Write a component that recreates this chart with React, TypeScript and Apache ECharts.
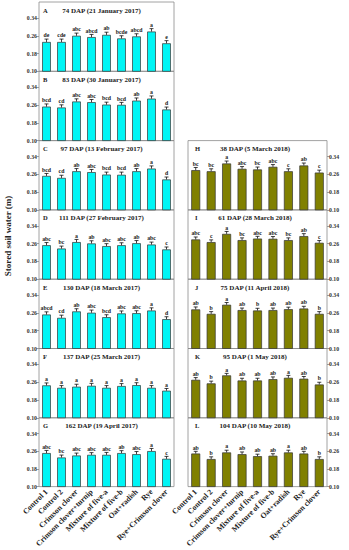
import React, { useEffect, useRef } from "react";
import * as echarts from "echarts";

const categories = [
  "Control 1",
  "Control 2",
  "Crimson clover",
  "Crimson clover+turnip",
  "Mixture of five-a",
  "Mixture of five-b",
  "Oat+radish",
  "Rye",
  "Rye+Crimson clover",
];

const yTicks = [0.1, 0.18, 0.26, 0.34];

const panelLetters = ["A", "B", "C", "D", "E", "F", "G", "H", "I", "J", "K", "L"];
const panelTitles = [
  "74 DAP (21 January 2017)",
  "83 DAP (30 January 2017)",
  "97 DAP (13 February 2017)",
  "111 DAP (27 February 2017)",
  "130 DAP (18 March 2017)",
  "137 DAP (25 March 2017)",
  "162 DAP (19 April 2017)",
  "38 DAP (5 March 2018)",
  "61 DAP (28 March 2018)",
  "75 DAP (11 April 2018)",
  "95 DAP (1 May 2018)",
  "104 DAP (10 May 2018)",
];

const meanA = [0.232, 0.232, 0.26, 0.254, 0.264, 0.248, 0.257, 0.279, 0.226];
const meanB = [0.253, 0.249, 0.276, 0.273, 0.262, 0.261, 0.28, 0.289, 0.24];
const meanC = [0.253, 0.244, 0.274, 0.27, 0.259, 0.258, 0.274, 0.286, 0.237];
const meanD = [0.253, 0.238, 0.267, 0.261, 0.249, 0.253, 0.262, 0.256, 0.234];
const meanE = [0.253, 0.238, 0.267, 0.261, 0.241, 0.258, 0.259, 0.271, 0.232];
const meanF = [0.246, 0.235, 0.24, 0.244, 0.235, 0.243, 0.247, 0.235, 0.222];
const meanG = [0.252, 0.232, 0.241, 0.244, 0.244, 0.252, 0.247, 0.261, 0.226];
const meanH = [0.279, 0.274, 0.309, 0.285, 0.282, 0.294, 0.274, 0.3, 0.268];
const meanI = [0.279, 0.267, 0.304, 0.276, 0.283, 0.282, 0.276, 0.294, 0.264];
const meanJ = [0.276, 0.256, 0.297, 0.273, 0.271, 0.273, 0.277, 0.28, 0.256];
const meanK = [0.271, 0.255, 0.291, 0.268, 0.268, 0.274, 0.28, 0.276, 0.25];
const meanL = [0.25, 0.225, 0.255, 0.247, 0.238, 0.24, 0.255, 0.25, 0.225];

const errA = [0.013, 0.013, 0.012, 0.012, 0.012, 0.012, 0.012, 0.013, 0.012];
const errB = [0.012, 0.012, 0.012, 0.012, 0.011, 0.011, 0.012, 0.012, 0.011];
const errC = [0.011, 0.012, 0.012, 0.012, 0.011, 0.012, 0.012, 0.012, 0.011];
const errD = [0.012, 0.011, 0.012, 0.012, 0.011, 0.011, 0.012, 0.011, 0.011];
const errE = [0.012, 0.012, 0.012, 0.012, 0.011, 0.011, 0.011, 0.012, 0.011];
const errF = [0.011, 0.01, 0.011, 0.011, 0.01, 0.011, 0.011, 0.01, 0.01];
const errG = [0.012, 0.011, 0.011, 0.01, 0.011, 0.011, 0.012, 0.012, 0.011];
const errH = [0.012, 0.011, 0.011, 0.01, 0.011, 0.01, 0.011, 0.011, 0.011];
const errI = [0.011, 0.01, 0.011, 0.01, 0.01, 0.01, 0.01, 0.011, 0.01];
const errJ = [0.011, 0.01, 0.01, 0.009, 0.01, 0.009, 0.009, 0.01, 0.01];
const errK = [0.01, 0.01, 0.009, 0.01, 0.01, 0.01, 0.011, 0.01, 0.01];
const errL = [0.01, 0.01, 0.01, 0.01, 0.009, 0.009, 0.01, 0.01, 0.01];

const letA = ["de", "cde", "abc", "abcd", "ab", "bcde", "abcd", "a", "e"];
const letB = ["bcd", "cd", "abc", "abc", "bcd", "bcd", "ab", "a", "d"];
const letC = ["bcd", "cd", "ab", "abc", "bcd", "bcd", "ab", "a", "d"];
const letD = ["abc", "bc", "a", "ab", "abc", "abc", "ab", "abc", "c"];
const letE = ["abcd", "cd", "ab", "abc", "bcd", "abc", "abc", "a", "d"];
const letF = ["a", "a", "a", "a", "a", "a", "a", "a", "a"];
const letG = ["abc", "bc", "abc", "abc", "abc", "ab", "abc", "a", "c"];
const letH = ["bc", "bc", "a", "abc", "bc", "abc", "c", "ab", "c"];
const letI = ["abc", "c", "a", "bc", "abc", "abc", "bc", "ab", "c"];
const letJ = ["ab", "b", "a", "ab", "b", "ab", "ab", "ab", "b"];
const letK = ["ab", "b", "a", "ab", "ab", "ab", "a", "ab", "b"];
const letL = ["ab", "b", "a", "ab", "ab", "ab", "a", "ab", "b"];

const means = [meanA, meanB, meanC, meanD, meanE, meanF, meanG, meanH, meanI, meanJ, meanK, meanL];
const errs = [errA, errB, errC, errD, errE, errF, errG, errH, errI, errJ, errK, errL];
const letters = [letA, letB, letC, letD, letE, letF, letG, letH, letI, letJ, letK, letL];

const FONT = "'Liberation Serif', 'Times New Roman', serif";
const CYAN = "#00F5F5";
const OLIVE = "#808000";

export default function App() {
  const ref = useRef<HTMLDivElement>(null);

  useEffect(() => {
    if (!ref.current) return;
    const chart = echarts.init(ref.current, undefined, { renderer: "svg" });

    const panelH = 69.3;
    const top0 = 2;
    const leftL = 39;
    const widthL = 135;
    const leftR = 188;
    const widthR = 139;

    const grids: any[] = [];
    const xAxes: any[] = [];
    const yAxes: any[] = [];
    const series: any[] = [];
    const graphics: any[] = [];

    for (let p = 0; p < 12; p++) {
      const isRight = p >= 7;
      const row = isRight ? p - 5 : p;
      const top = top0 + row * panelH;
      const left = isRight ? leftR : leftL;
      const width = isRight ? widthR : widthL;
      const isBottom = p === 6 || p === 11;

      grids.push({
        left,
        top,
        width,
        height: panelH,
        show: true,
        borderColor: "#8a8a8a",
        borderWidth: 0.8,
        backgroundColor: "transparent",
      });

      xAxes.push({
        type: "category",
        gridIndex: p,
        data: categories,
        axisLine: { show: false },
        axisTick: { show: false },
        axisLabel: {
          show: isBottom,
          interval: 0,
          rotate: 45,
          margin: 4,
          fontSize: 7.8,
          fontWeight: "bold",
          fontFamily: FONT,
          color: "#222",
        },
      });

      yAxes.push({
        type: "value",
        gridIndex: p,
        position: isRight ? "right" : "left",
        min: 0.1,
        max: 0.412,
        splitLine: { show: false },
        axisLine: { show: false },
        axisTick: {
          show: true,
          length: 2.5,
          lineStyle: { color: "#888", width: 0.8 },
          customValues: yTicks,
        },
        axisLabel: {
          customValues: yTicks,
          formatter: (v: number) => v.toFixed(2),
          fontSize: 5.8,
          fontWeight: "bold",
          fontFamily: FONT,
          color: "#333",
          margin: 2,
        },
      });

      const m = means[p];
      const e = errs[p];
      const lt = letters[p];

      series.push({
        type: "bar",
        xAxisIndex: p,
        yAxisIndex: p,
        data: m,
        barWidth: "58%",
        itemStyle: {
          color: isRight ? OLIVE : CYAN,
          borderColor: "#333",
          borderWidth: 0.7,
        },
        z: 2,
      });

      series.push({
        type: "custom",
        xAxisIndex: p,
        yAxisIndex: p,
        data: m.map((v, i) => [i, v, e[i]]),
        encode: { x: 0, y: 1 },
        z: 3,
        renderItem: (params: any, api: any) => {
          const xi = api.value(0);
          const val = api.value(1);
          const er = api.value(2);
          const topPt = api.coord([xi, val + er]);
          const botPt = api.coord([xi, val]);
          const cw = 2;
          const ls = { stroke: "#111", lineWidth: 0.8 };
          return {
            type: "group",
            children: [
              {
                type: "line",
                shape: { x1: topPt[0], y1: topPt[1], x2: botPt[0], y2: botPt[1] },
                style: ls,
              },
              {
                type: "line",
                shape: { x1: topPt[0] - cw, y1: topPt[1], x2: topPt[0] + cw, y2: topPt[1] },
                style: ls,
              },
              {
                type: "text",
                x: topPt[0],
                y: topPt[1] - 0.8,
                style: {
                  text: lt[params.dataIndex],
                  align: "center",
                  verticalAlign: "bottom",
                  fontSize: 5.8,
                  fontWeight: "bold",
                  fontFamily: FONT,
                  fill: "#222",
                },
              },
            ],
          };
        },
      });

      graphics.push({
        type: "text",
        left: left + (isRight ? 7 : 4),
        top: top + 4.5,
        style: {
          text: panelLetters[p],
          fontSize: 6.5,
          fontWeight: "bold",
          fontFamily: FONT,
          fill: "#222",
        },
      });
      graphics.push({
        type: "text",
        x: left + width / 2 - (isRight ? 2.5 : 5),
        y: top + 8.5,
        style: {
          text: panelTitles[p],
          align: "center",
          verticalAlign: "middle",
          fontSize: 7,
          fontWeight: "bold",
          fontFamily: FONT,
          fill: "#222",
        },
      });
    }

    graphics.push({
      type: "text",
      x: 8,
      y: 236,
      rotation: Math.PI / 2,
      style: {
        text: "Stored soil water (m)",
        align: "center",
        verticalAlign: "middle",
        fontSize: 9,
        fontWeight: "bold",
        fontFamily: FONT,
        fill: "#222",
      },
    });

    chart.setOption({
      animation: false,
      backgroundColor: "#fff",
      grid: grids,
      xAxis: xAxes,
      yAxis: yAxes,
      series,
      graphic: graphics,
    });

    return () => chart.dispose();
  }, []);

  return (
    <div
      ref={ref}
      style={{ position: "absolute", left: 0, top: 0, width: 349, height: 550 }}
    />
  );
}
